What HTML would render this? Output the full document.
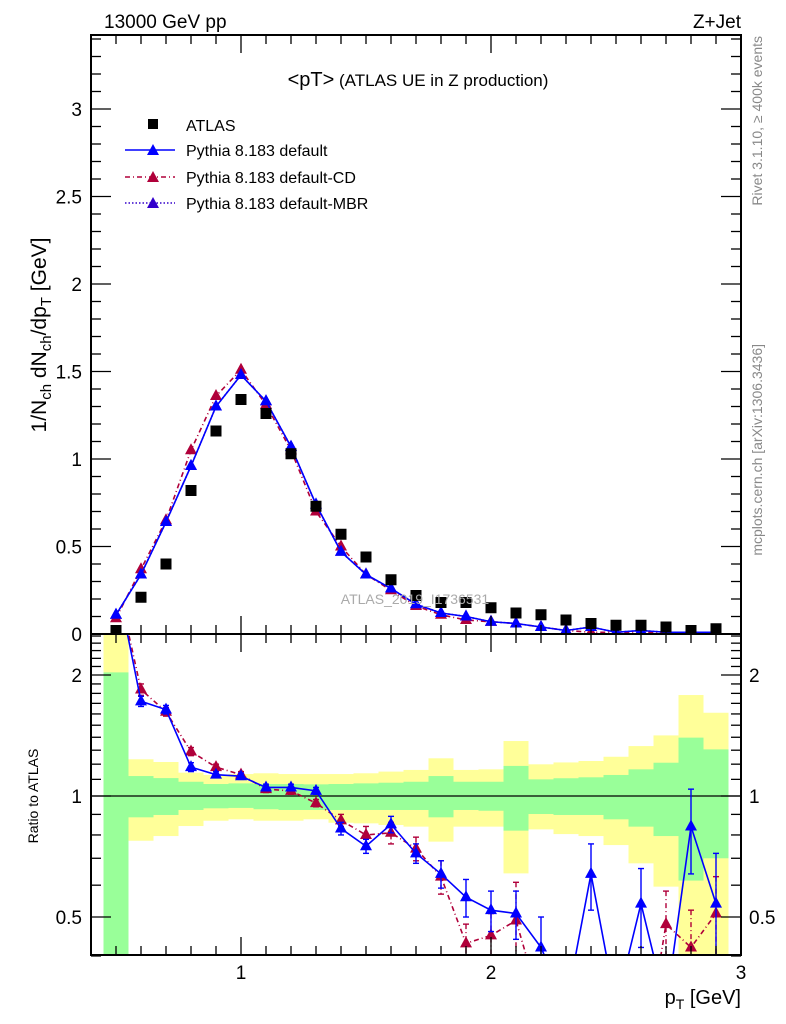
<!DOCTYPE html>
<html><head><meta charset="utf-8"><style>
html,body{margin:0;padding:0;background:#fff;width:786px;height:1024px;overflow:hidden;}
svg{display:block;font-family:"Liberation Sans",sans-serif;}
</style></head><body>
<svg id="plot" width="786" height="1024" viewBox="0 0 786 1024" xmlns="http://www.w3.org/2000/svg">
<g id="bands"></g>
<g id="marks"></g>
<g id="axes"></g>
<text x="104" y="28" font-size="19">13000 GeV pp</text>
<text x="741" y="28" font-size="19" text-anchor="end">Z+Jet</text>
<text x="418" y="86" font-size="17" text-anchor="middle"><tspan font-size="20">&lt;pT&gt;</tspan> (ATLAS UE in Z production)</text>
<g font-size="16">
 <rect x="148" y="119" width="10" height="10" fill="#000"/>
 <text x="186" y="131">ATLAS</text>
 <line x1="125" y1="150" x2="175" y2="150" stroke="#0000ff" stroke-width="1.5"/>
 <polygon points="153,144 147,155 159,155" fill="#0000ff"/>
 <text x="186" y="156">Pythia 8.183 default</text>
 <line x1="125" y1="177" x2="175" y2="177" stroke="#b0003a" stroke-width="1.5" stroke-dasharray="5,3,1,3"/>
 <polygon points="153,171 147,182 159,182" fill="#b0003a"/>
 <text x="186" y="183">Pythia 8.183 default-CD</text>
 <line x1="125" y1="203" x2="175" y2="203" stroke="#3300cc" stroke-width="1.5" stroke-dasharray="1.5,2"/>
 <polygon points="153,197 147,208 159,208" fill="#3300cc"/>
 <text x="186" y="209">Pythia 8.183 default-MBR</text>
</g>
<text x="415" y="604" font-size="14" fill="#aaa" text-anchor="middle">ATLAS_2019_I1736531</text>
<text font-size="21" transform="translate(46 335) rotate(-90)" text-anchor="middle">1/N<tspan font-size="15" dy="5">ch</tspan><tspan dy="-5"> dN</tspan><tspan font-size="15" dy="5">ch</tspan><tspan dy="-5">/dp</tspan><tspan font-size="15" dy="5">T</tspan><tspan dy="-5"> [GeV]</tspan></text>
<text font-size="14" transform="translate(38 796) rotate(-90)" text-anchor="middle">Ratio to ATLAS</text>
<text x="741" y="1004" font-size="20" text-anchor="end">p<tspan font-size="14" dy="5">T</tspan><tspan dy="-5"> [GeV]</tspan></text>
<text font-size="14" fill="#888" transform="translate(762 36) rotate(-90)" text-anchor="end">Rivet 3.1.10, ≥ 400k events</text>
<text font-size="14" fill="#888" transform="translate(762 344) rotate(-90)" text-anchor="end">mcplots.cern.ch [arXiv:1306.3436]</text>
</svg>
<script>
const xCenters=[0.5,0.6,0.7,0.8,0.9,1.0,1.1,1.2,1.3,1.4,1.5,1.6,1.7,1.8,1.9,2.0,2.1,2.2,2.3,2.4,2.5,2.6,2.7,2.8,2.9];
const atlasVals=[0.02,0.21,0.40,0.82,1.16,1.34,1.26,1.03,0.73,0.57,0.44,0.31,0.22,0.18,0.18,0.15,0.12,0.11,0.08,0.06,0.05,0.05,0.04,0.02,0.03];
const defVals=[0.11,0.34,0.64,0.96,1.30,1.48,1.33,1.07,0.74,0.47,0.34,0.26,0.17,0.12,0.10,0.07,0.06,0.04,0.02,0.04,0.01,0.02,0.01,0.01,0.01];
const cdVals=[0.09,0.37,0.65,1.05,1.36,1.51,1.31,1.05,0.70,0.50,0.34,0.25,0.16,0.11,0.08,0.07,0.06,0.04,0.02,0.01,0.01,0.01,0.01,0.01,0.01];
const mbrVals=[0.11,0.34,0.64,0.96,1.30,1.48,1.33,1.07,0.74,0.47,0.34,0.26,0.17,0.12,0.10,0.07,0.06,0.04,0.02,0.04,0.01,0.02,0.01,0.01,0.01];
const defRatio=[3.5,1.72,1.64,1.18,1.13,1.12,1.05,1.05,1.03,0.83,0.75,0.85,0.72,0.64,0.56,0.52,0.51,0.42,0.30,0.64,0.30,0.54,0.30,0.84,0.54];
const defRatioErr=[0.3,0.05,0.04,0.03,0.02,0.02,0.02,0.02,0.02,0.03,0.03,0.04,0.04,0.05,0.06,0.06,0.07,0.08,0.1,0.12,0.1,0.12,0.1,0.2,0.18];
const cdRatio=[3.5,1.84,1.62,1.29,1.18,1.13,1.04,1.03,0.96,0.87,0.80,0.81,0.74,0.63,0.43,0.45,0.49,0.30,0.20,0.20,0.20,0.20,0.48,0.42,0.51];
const cdRatioErr=[0.3,0.06,0.04,0.03,0.02,0.02,0.02,0.02,0.02,0.03,0.04,0.05,0.05,0.06,0.05,0.06,0.12,0.1,0.1,0.1,0.1,0.1,0.1,0.1,0.12];
const greenHi=[2.03,1.121,1.108,1.085,1.071,1.075,1.071,1.071,1.069,1.071,1.075,1.079,1.085,1.121,1.085,1.085,1.188,1.100,1.107,1.113,1.128,1.165,1.210,1.397,1.306];
const greenLo=[0.3,0.885,0.897,0.923,0.932,0.934,0.927,0.923,0.923,0.923,0.923,0.923,0.923,0.885,0.923,0.919,0.820,0.902,0.897,0.897,0.875,0.839,0.795,0.616,0.700];
const yellowHi=[3,1.234,1.215,1.143,1.128,1.134,1.139,1.134,1.134,1.134,1.139,1.150,1.161,1.241,1.161,1.165,1.370,1.199,1.212,1.222,1.252,1.331,1.415,1.783,1.611];
const yellowLo=[0.3,0.774,0.795,0.842,0.868,0.875,0.868,0.868,0.875,0.858,0.855,0.847,0.839,0.770,0.839,0.839,0.642,0.826,0.804,0.795,0.755,0.680,0.595,0.3,0.3];
const yTicks=[0,0.5,1,1.5,2,2.5,3];
const yTickLabels=["0","0.5","1","1.5","2","2.5","3"];
const xTicks=[1,2,3];
const ratioTicks=[0.5,1,2];
const ratioTickLabels=["0.5","1","2"];

const NS="http://www.w3.org/2000/svg";
const L=91,R=741,T=35,MB=634,RB=955;
const X=v=>L+(v-0.4)*250;
const Y=v=>MB-v*175;
const RY=v=>796-Math.log10(v)*402;
const RYc=v=>Math.max(MB,Math.min(RB,RY(v)));
function mk(p,tag,at){const e=document.createElementNS(NS,tag);for(const k in at)e.setAttribute(k,at[k]);p.appendChild(e);return e;}
const bands=document.getElementById('bands'),marks=document.getElementById('marks'),axes=document.getElementById('axes');

xCenters.forEach((c,i)=>{
  const x0=Math.max(L,X(c-0.05)),x1=X(c+0.05);
  const y=mk(bands,'rect',{x:x0,y:RYc(yellowHi[i]),width:x1-x0,height:RYc(yellowLo[i])-RYc(yellowHi[i]),fill:'#ffff99'});
  
  
  const g=mk(bands,'rect',{x:x0,y:RYc(greenHi[i]),width:x1-x0,height:RYc(greenLo[i])-RYc(greenHi[i]),fill:'#99ff99'});
  
  
});
mk(bands,'line',{x1:L,y1:RY(1),x2:R,y2:RY(1),stroke:'#000','stroke-width':1.3});

const defs=mk(document.getElementById('plot'),'defs',{});
const cp1=mk(defs,'clipPath',{id:'cmain'});mk(cp1,'rect',{x:L,y:T,width:R-L,height:MB-T});
const cp2=mk(defs,'clipPath',{id:'cratio'});mk(cp2,'rect',{x:L,y:MB,width:R-L,height:RB-MB});
const gm=mk(marks,'g',{'clip-path':'url(#cmain)'});
const gr=mk(marks,'g',{'clip-path':'url(#cratio)'});

function tri(p,x,y,col,name){const t=mk(p,'polygon',{points:`${x},${y-7} ${x-6},${y+4} ${x+6},${y+4}`,fill:col});
  
  }
function series(p,vals,fy,col,dash,name,errs){
  const pts=xCenters.map((c,i)=>X(c)+','+fy(vals[i])).join(' ');
  const l=mk(p,'polyline',{points:pts,fill:'none',stroke:col,'stroke-width':1.6,'stroke-dasharray':dash});
  
  
  xCenters.forEach((c,i)=>{
    if(errs){const a=fy(vals[i]+errs[i]),b=fy(Math.max(0.05,vals[i]-errs[i]));
      mk(p,'line',{x1:X(c),y1:a,x2:X(c),y2:b,stroke:col,'stroke-width':1.4,'stroke-dasharray':dash});
      mk(p,'line',{x1:X(c)-3,y1:a,x2:X(c)+3,y2:a,stroke:col,'stroke-width':1.4});
      mk(p,'line',{x1:X(c)-3,y1:b,x2:X(c)+3,y2:b,stroke:col,'stroke-width':1.4});}
    tri(p,X(c),fy(vals[i]),col,name+'-point');
  });
}
series(gm,mbrVals,Y,'#3300cc','1.5,2','mbr');
series(gm,cdVals,Y,'#b0003a','5,3,1,3','cd');
series(gm,defVals,Y,'#0000ff','','default');
xCenters.forEach((c,i)=>{const r=mk(gm,'rect',{x:X(c)-5.5,y:Y(atlasVals[i])-5.5,width:11,height:11,fill:'#000'});
  
  });
series(gr,cdRatio,RY,'#b0003a','5,3,1,3','cd-ratio',cdRatioErr);
series(gr,defRatio,RY,'#0000ff','','default-ratio',defRatioErr);

mk(axes,'rect',{x:L,y:T,width:R-L,height:MB-T,fill:'none',stroke:'#000','stroke-width':2});
mk(axes,'rect',{x:L,y:MB,width:R-L,height:RB-MB,fill:'none',stroke:'#000','stroke-width':2});
function tk(x1,y1,x2,y2){mk(axes,'line',{x1,y1,x2,y2,stroke:'#000','stroke-width':1.3});}
for(let k=5;k<=29;k++){const v=k/10,x=X(v),maj=(k%10===0),len=maj?18:9;
  tk(x,MB,x,MB-len);tk(x,T,x,T+len);tk(x,RB,x,RB-len);tk(x,MB,x,MB+len);}
xTicks.forEach(v=>{const t=mk(axes,'text',{x:X(v),y:979,'font-size':19,'text-anchor':'middle'});t.textContent=String(v);
  
  });
for(let k=0;k<=34;k++){const y=Y(k/10),maj=(k%5===0),len=maj?20:10;tk(L,y,L+len,y);tk(R,y,R-len,y);}
yTicks.forEach((v,i)=>{const t=mk(axes,'text',{x:82,y:Y(v)+7,'font-size':19,'text-anchor':'end'});t.textContent=yTickLabels[i];
  
  });
const rmin=[0.4,0.6,0.7,0.8,0.9,1.1,1.2,1.3,1.4,1.5,1.6,1.7,1.8,1.9,2.1,2.2,2.3,2.4,2.5];
rmin.forEach(v=>{const y=RY(v);tk(L,y,L+10,y);tk(R,y,R-10,y);});
ratioTicks.forEach((v,i)=>{const y=RY(v);tk(L,y,L+20,y);tk(R,y,R-20,y);
  const t=mk(axes,'text',{x:82,y:y+7,'font-size':19,'text-anchor':'end'});t.textContent=ratioTickLabels[i];
  
  
  const t2=mk(axes,'text',{x:749,y:y+7,'font-size':19});t2.textContent=ratioTickLabels[i];
  
  });
</script>
</body></html>
